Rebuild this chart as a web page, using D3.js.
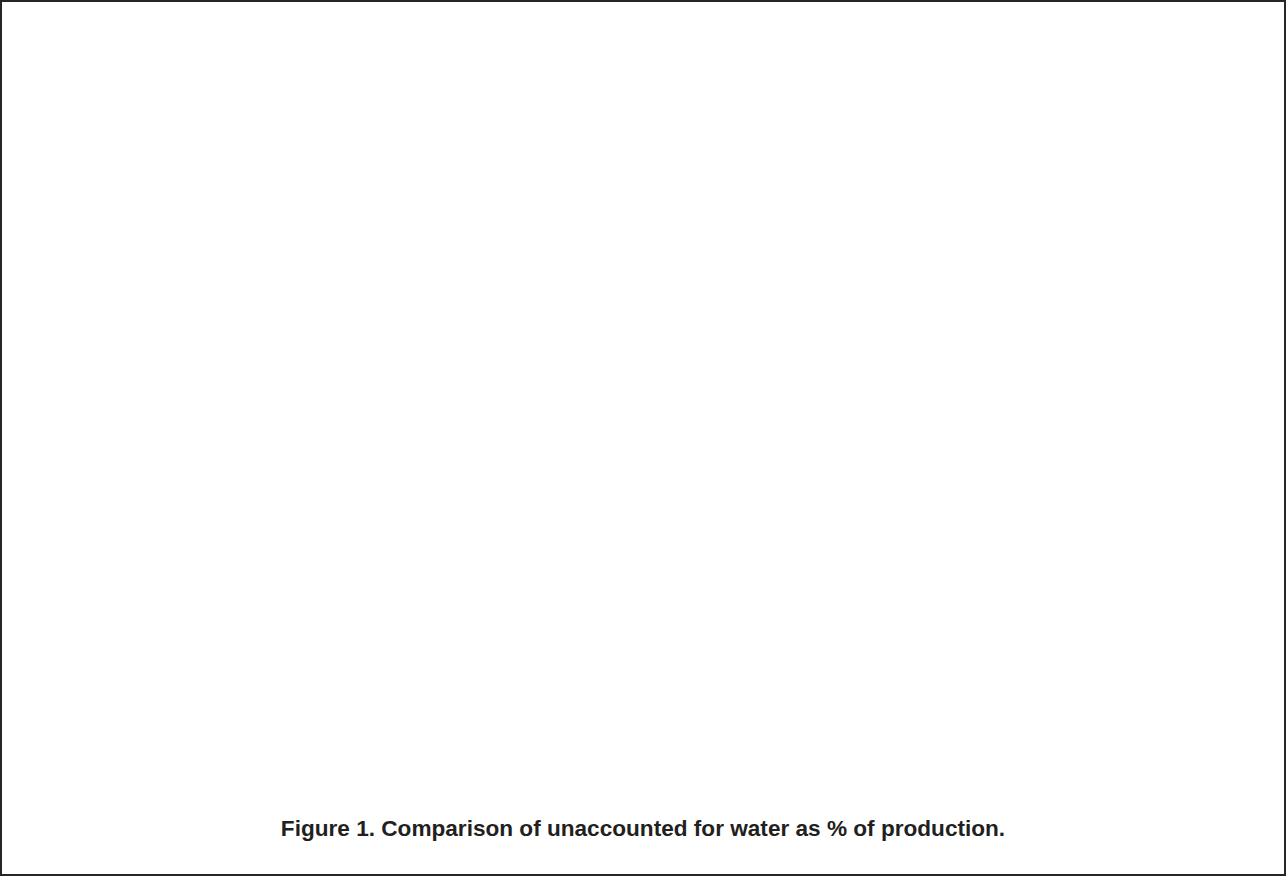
<!DOCTYPE html>
<meta charset="utf-8">
<style>
  body { margin: 0; background: #fff; }
  svg { display: block; }
</style>
<script src="https://d3js.org/d3.v7.min.js"></script>
<div id="chart"></div>
<script>
// the source figure shows only its frame and caption, no plotted marks
var captions = ["Figure 1. Comparison of unaccounted for water as % of production."];

var width = 1286,
    height = 876;

var svg = d3.select("#chart")
  .append("svg")
    .attr("width", width)
    .attr("height", height);

svg.append("rect")
    .attr("x", 1)
    .attr("y", 1)
    .attr("width", width - 2)
    .attr("height", height - 2)
    .attr("fill", "#fff")
    .attr("stroke", "#262626")
    .attr("stroke-width", 2);

svg.selectAll("text.caption")
  .data(captions)
  .enter()
  .append("text")
    .attr("class", "caption")
    .attr("x", width / 2)
    .attr("y", 836)
    .attr("text-anchor", "middle")
    .style("font-family", '"Liberation Sans", Arial, sans-serif')
    .style("font-weight", "bold")
    .style("font-size", "22.6px")
    .attr("fill", "#231f20")
    .text(function(d) { return d; });
</script>
